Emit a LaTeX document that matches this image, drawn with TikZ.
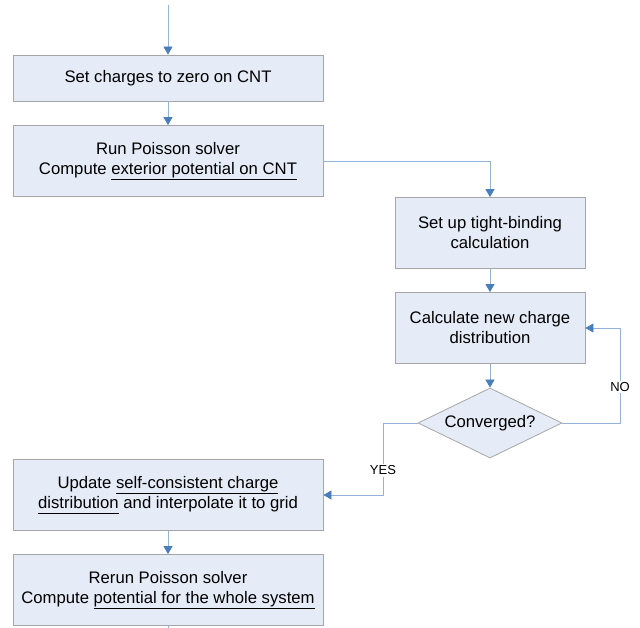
\documentclass[tikz,border=0pt]{standalone}
\usepackage{fontspec}
\setmainfont{Liberation Sans}
\usetikzlibrary{shapes.geometric,arrows.meta}
\definecolor{boxfill}{HTML}{E6ECF7}
\definecolor{boxline}{HTML}{A6A6A6}
\definecolor{flowline}{HTML}{95B3D7}
\definecolor{flowhead}{HTML}{4A7EBB}
\newcommand\ulin[1]{\underline{#1\vphantom{g}}}

\begin{document}
\begin{tikzpicture}[x=1pt,y=-1pt,every node/.style={align=center,font=\fontsize{16.7}{20}\selectfont},
stepbox/.style={draw=boxline,fill=boxfill,line width=0.8pt,minimum height=71pt,inner sep=0pt},
wide/.style={stepbox,minimum width=310pt}, narrow/.style={stepbox,minimum width=190pt},
test/.style={diamond,draw=boxline,fill=boxfill,line width=0.8pt,minimum width=144pt,minimum height=70pt,inner sep=0pt,aspect=2.06},
flow/.style={draw=flowline,line width=0.8pt,-{Triangle[length=8pt,width=9pt,color=flowhead]}},
answer/.style={fill=white,font=\fontsize{13}{15}\selectfont,inner sep=1.5pt}
]
\useasboundingbox (0,0) rectangle (640,628);
% left column
\node[wide,minimum height=46pt] (zero) at (168,78) {Set charges to zero on CNT};
\node[wide] (poisson) at (168,161) {Run Poisson solver \\ Compute \ulin{exterior potential on CNT}};
\node[wide] (update) at (168,495) {Update \ulin{self-consistent charge} \\ \ulin{distribution} and interpolate it to grid};
\node[wide] (rerun) at (168,590) {Rerun Poisson solver \\ Compute \ulin{potential for the whole system}};
% right column
\node[narrow] (tb) at (490,233) {Set up tight-binding \\ calculation};
\node[narrow] (charge) at (490,328) {Calculate new charge \\ distribution};
\node[test] (conv) at (490,423) {Converged?};
\coordinate (in) at (168,5);
\coordinate (out) at (168,628);
\coordinate (noback) at (620,328);
\coordinate (yesturn) at (383,495);
\draw[flow] (in) -- (zero);
\draw[flow] (zero) -- (poisson);
\draw[flow] (poisson.east) -| (tb.north);
\draw[flow] (tb) -- (charge);
\draw[flow] (charge) -- (conv);
\draw[flow] (conv.east) -| node[answer,pos=0.69] {NO} (noback) -- (charge.east);
\draw[flow] (conv.west) -| node[answer,pos=0.83] {YES} (yesturn) -- (update.east);
\draw[flow] (update) -- (rerun);
\draw[draw=flowline,line width=0.8pt] (rerun) -- (out);
\end{tikzpicture}
\end{document}
